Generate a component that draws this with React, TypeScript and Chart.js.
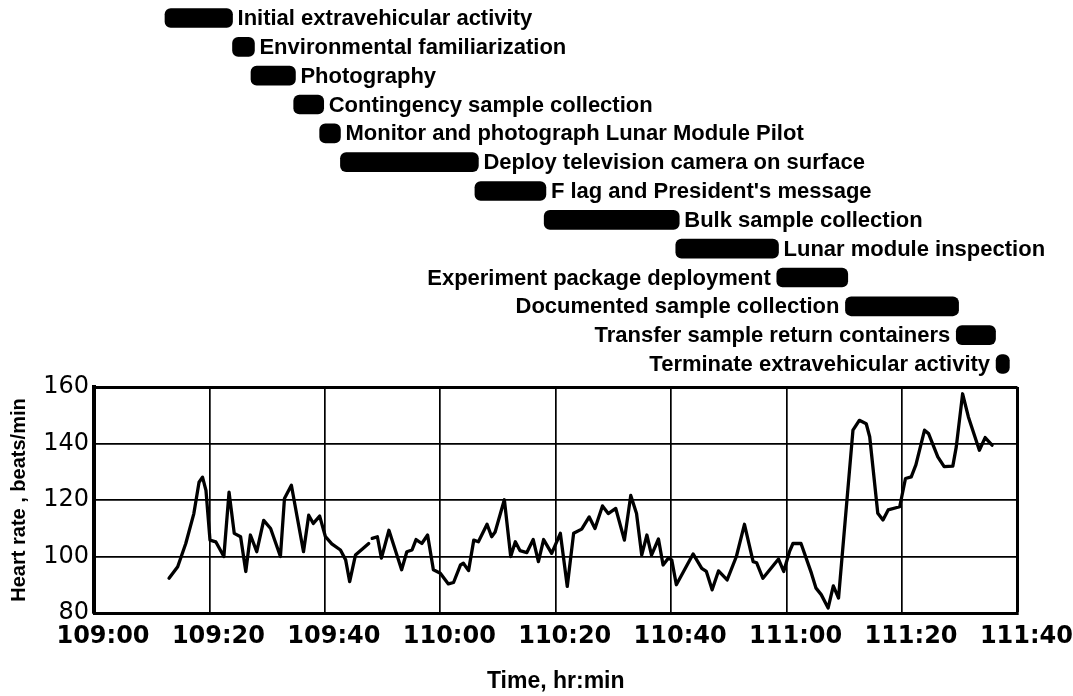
import React, { useEffect, useRef } from 'react';
import { Chart, registerables } from 'chart.js';

Chart.register(...registerables);

// ---- Data ----
const xTickLabels = ['109:00', '109:20', '109:40', '110:00', '110:20', '110:40', '111:00', '111:20', '111:40'];

// minutes after 109:00
const timeMin = [
  13.0, 14.5, 15.9, 17.3, 18.2, 18.8, 19.4, 20.1, 21.1, 22.5,
  23.4, 24.3, 25.4, 26.3, 27.1, 28.2, 29.4, 30.6, 32.3, 33.0,
  34.2, 35.2, 36.3, 37.2, 38.0, 39.1, 40.1, 41.2, 42.7, 43.6,
  44.3, 45.3, 47.6, 47.9, 48.2, 49.1, 49.8, 51.1, 53.3, 54.2,
  55.1, 55.8, 56.8, 57.8, 58.8, 60.0, 61.4, 62.3, 63.5, 64.0,
  64.9, 65.8, 66.6, 68.1, 68.9, 69.5, 71.1, 72.2, 73.0, 73.8,
  75.0, 76.1, 77.0, 77.9, 79.3, 80.8, 82.0, 83.1, 84.5, 85.8,
  86.8, 88.1, 89.1, 90.4, 91.9, 93.0, 94.0, 94.9, 95.8, 96.6,
  97.8, 98.6, 99.5, 100.1, 100.9, 103.8, 105.3, 106.1, 107.1, 108.2,
  109.7, 111.3, 112.7, 114.2, 114.8, 115.9, 118.6, 119.5, 120.5, 121.1,
  122.5, 124.3, 125.1, 126.0, 127.2, 128.1, 129.0, 131.5, 132.6, 133.8,
  134.4, 135.8, 136.7, 137.6, 139.6, 140.6, 141.6, 142.4, 143.9, 144.6,
  146.2, 147.3, 148.8, 149.4, 150.5, 151.5, 153.4, 154.4, 155.6,
];

// beats/min (null = gap in the record)
const heartRate = [
  92.3, 96.4, 104.6, 115.2, 126.3, 128.1, 123.4, 105.8, 105.2, 100,
  122.8, 108.2, 107, 94.7, 107.6, 101.7, 112.8, 109.9, 100, 120.5,
  125.2, 114, 101.7, 114.6, 111.7, 114.3, 107, 104.5, 102.3, 98.8,
  91.1, 100.5, 104.6, null, 106.4, 107, 99.4, 109.3, 95.3, 101.7,
  102.3, 106, 104.6, 107.6, 95.3, 94.1, 90.3, 90.8, 97, 97.6,
  95, 105.8, 105.2, 111.4, 107, 108.7, 120.1, 100, 105.2, 102.1,
  101.4, 106, 98.2, 106, 101.1, 108.2, 89.4, 108.2, 109.7, 114,
  109.9, 117.9, 115.2, 117, 105.8, 121.6, 115.2, 100.5, 107.6, 100.5,
  106.2, 97, 99.4, 98.8, 90, 100.9, 95.8, 94.7, 88.2, 94.9,
  91.7, 100, 111.4, 98.2, 97.8, 92.3, 99.1, 94.7, 101.7, 104.6,
  104.6, 94.1, 88.8, 86.5, 81.8, 89.6, 85.3, 144.7, 148.2, 147,
  142.4, 115.3, 112.9, 116.5, 117.6, 127.6, 128.2, 132.4, 144.7, 143.5,
  135.3, 131.8, 132, 138.8, 157.6, 149.4, 137.6, 142.1, 139.4,
];

const activityNames = [
  'Initial extravehicular activity',
  'Environmental familiarization',
  'Photography',
  'Contingency sample collection',
  'Monitor and photograph Lunar Module Pilot',
  'Deploy television camera on surface',
  "F lag and President's message",
  'Bulk sample collection',
  'Lunar module inspection',
  'Experiment package deployment',
  'Documented sample collection',
  'Transfer sample return containers',
  'Terminate extravehicular activity',
];
const activityStart = [12.3, 24.0, 27.2, 34.6, 39.1, 42.7, 66.0, 78.0, 100.8, 118.3, 130.2, 149.4, 156.3];
const activityEnd = [24.0, 27.8, 34.9, 39.8, 42.7, 66.6, 78.3, 101.4, 118.6, 130.6, 149.8, 156.2, 158.6];
const labelSide = ['right', 'right', 'right', 'right', 'right', 'right', 'right', 'right', 'right', 'left', 'left', 'left', 'left'];

// ---- Layout (pixels) ----
const W = 1073;
const H = 696;
const PLOT_LEFT = 94;
const PLOT_RIGHT = 1018;
const PLOT_TOP = 387;
const PLOT_BOTTOM = 613;
const ROW_TOP = 18;
const ROW_GAP = 28.83;

const activityLabelsPlugin = {
  id: 'activityLabels',
  afterDatasetsDraw(chart: any) {
    const meta = chart.getDatasetMeta(1);
    const ctx = chart.ctx;
    ctx.save();
    ctx.font = 'bold 22px "Liberation Sans"';
    ctx.fillStyle = '#000';
    ctx.textBaseline = 'middle';
    meta.data.forEach((el: any, i: number) => {
      const { x, base, y } = el.getProps(['x', 'base', 'y'], true);
      const r = Math.max(x, base);
      const l = Math.min(x, base);
      if (labelSide[i] === 'right') {
        ctx.textAlign = 'left';
        ctx.fillText(activityNames[i], r + 5, y + 1);
      } else {
        ctx.textAlign = 'right';
        ctx.fillText(activityNames[i], l - 6, y + 1);
      }
    });
    ctx.restore();
  },
};

export default function App() {
  const ref = useRef<HTMLCanvasElement | null>(null);

  useEffect(() => {
    if (!ref.current) return;
    const chart = new Chart(ref.current, {
      type: 'line',
      data: {
        datasets: [
          {
            type: 'line',
            label: 'Heart rate',
            data: timeMin.map((t, i) => ({ x: t, y: heartRate[i] })) as any,
            xAxisID: 'x',
            yAxisID: 'y',
            borderColor: '#000',
            borderWidth: 3.3,
            pointRadius: 0,
            tension: 0,
            spanGaps: false,
            borderJoinStyle: 'round',
            borderCapStyle: 'round',
          } as any,
          {
            type: 'bar',
            label: 'Activities',
            indexAxis: 'y',
            data: activityStart.map((s, i) => ({ x: [s, activityEnd[i]], y: i })) as any,
            xAxisID: 'x',
            yAxisID: 'yAct',
            backgroundColor: '#000',
            borderWidth: 0,
            barThickness: 19,
            borderRadius: 6,
            borderSkipped: false,
            clip: false,
          } as any,
        ],
      },
      options: {
        animation: false,
        responsive: false,
        devicePixelRatio: 1,
        layout: {
          padding: { top: PLOT_TOP, right: W - PLOT_RIGHT, bottom: 0, left: 0 },
        },
        plugins: {
          legend: { display: false },
          tooltip: { enabled: false },
        },
        scales: {
          x: {
            type: 'linear',
            min: 0,
            max: 160,
            offset: false,
            afterFit: (scale: any) => {
              scale.height = H - PLOT_BOTTOM;
            },
            ticks: {
              stepSize: 20,
              autoSkip: false,
              maxRotation: 0,
              padding: 9,
              labelOffset: 9,
              color: '#000',
              font: { family: '"DejaVu Sans"', size: 24, weight: 'bold' },
              callback: (v: any) => xTickLabels[Math.round(Number(v) / 20)],
            },
            grid: {
              color: '#000',
              offset: false,
              lineWidth: (c: any) => (c.tick && c.tick.value === 160 ? 3 : 1.7),
              drawTicks: false,
            },
            border: { display: true, color: '#000', width: 3 },
            title: {
              display: true,
              text: 'Time, hr:min',
              color: '#000',
              font: { family: '"Liberation Sans"', size: 23, weight: 'bold' },
              padding: { top: 0, bottom: 1 },
            },
          },
          y: {
            type: 'linear',
            min: 80,
            max: 160,
            offset: false,
            afterFit: (scale: any) => {
              scale.width = PLOT_LEFT;
            },
            ticks: {
              stepSize: 20,
              padding: 5,
              color: '#000',
              font: { family: '"DejaVu Sans"', size: 24 },
            },
            grid: {
              color: '#000',
              offset: false,
              lineWidth: (c: any) => (c.tick && c.tick.value === 160 ? 3 : 1.7),
              drawTicks: false,
            },
            border: { display: true, color: '#000', width: 4 },
            title: {
              display: true,
              text: 'Heart rate , beats/min',
              color: '#000',
              font: { family: '"Liberation Sans"', size: 20, weight: 'bold' },
              padding: { top: 7, bottom: 0 },
            },
          },
          yAct: {
            type: 'linear',
            axis: 'y',
            position: 'left',
            display: false,
            offset: false,
            grace: 0,
            reverse: true,
            min: (PLOT_TOP - ROW_TOP) / ROW_GAP,
            max: (PLOT_BOTTOM - ROW_TOP) / ROW_GAP,
            grid: { offset: false },
          },
        },
      } as any,
      plugins: [activityLabelsPlugin],
    });
    return () => chart.destroy();
  }, []);

  return (
    <div style={{ position: 'absolute', left: 0, top: 0, width: W, height: H, background: '#fff' }}>
      <canvas ref={ref} width={W} height={H} style={{ display: 'block', width: W, height: H }} />
    </div>
  );
}
